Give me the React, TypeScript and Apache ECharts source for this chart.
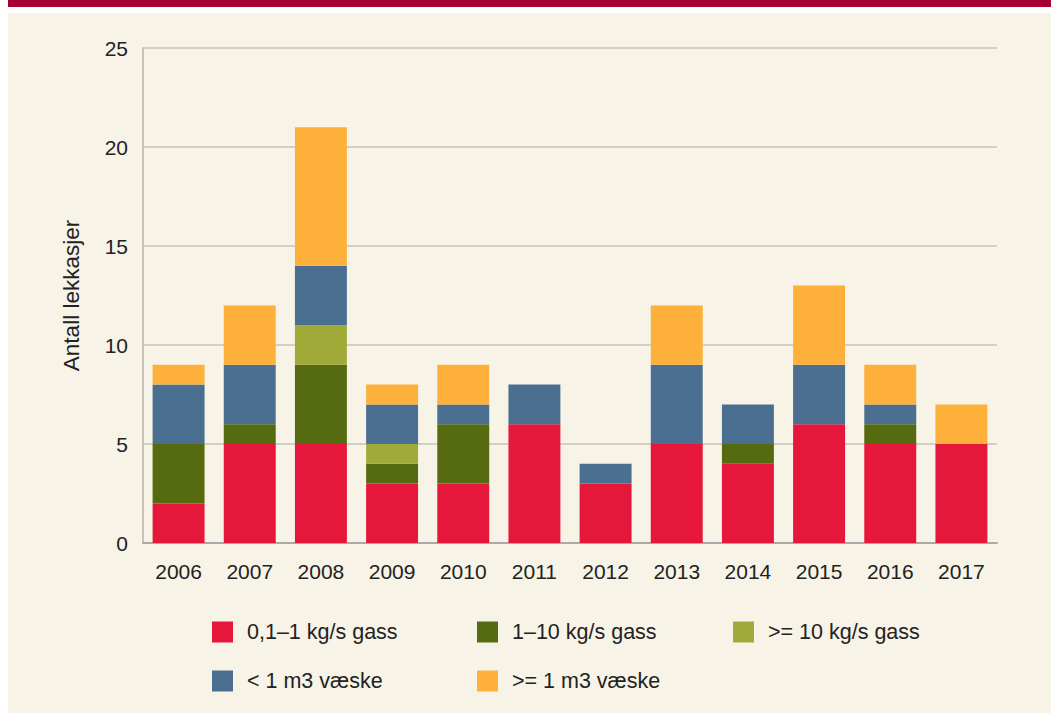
import React, { useEffect, useRef } from "react";
import * as echarts from "echarts";

const years = ["2006", "2007", "2008", "2009", "2010", "2011", "2012", "2013", "2014", "2015", "2016", "2017"];
const gasSmall = [2, 5, 5, 3, 3, 6, 3, 5, 4, 6, 5, 5];
const gasMedium = [3, 1, 4, 1, 3, 0, 0, 0, 1, 0, 1, 0];
const gasLarge = [0, 0, 2, 1, 0, 0, 0, 0, 0, 0, 0, 0];
const liquidSmall = [3, 3, 3, 2, 1, 2, 1, 4, 2, 3, 1, 0];
const liquidLarge = [1, 3, 7, 1, 2, 0, 0, 3, 0, 4, 2, 2];
const yTicks = [0, 5, 10, 15, 20, 25];

const seriesNames = ["0,1–1 kg/s gass", "1–10 kg/s gass", ">= 10 kg/s gass", "< 1 m3 væske", ">= 1 m3 væske"];
const seriesColors = ["#e5173a", "#566b10", "#9faa38", "#4a6f91", "#fdb13b"];
const seriesData = [gasSmall, gasMedium, gasLarge, liquidSmall, liquidLarge];

const legendPos = [
  { left: 212, top: 621 },
  { left: 477, top: 621 },
  { left: 733, top: 621 },
  { left: 212, top: 670 },
  { left: 477, top: 670 },
];

export default function App() {
  const ref = useRef<HTMLDivElement>(null);
  useEffect(() => {
    if (!ref.current) return;
    const chart = echarts.init(ref.current, undefined, { renderer: "svg" });
    const font = "'Liberation Sans', Arial, sans-serif";
    chart.setOption({
      animation: false,
      backgroundColor: "transparent",
      textStyle: { fontFamily: font },
      grid: { left: 143, right: 54, top: 48, bottom: 170, containLabel: false },
      xAxis: {
        type: "category",
        data: years,
        axisLine: { lineStyle: { color: "#aaaaaa", width: 2 } },
        axisTick: { show: false },
        axisLabel: { color: "#222", fontSize: 21, margin: 18, fontFamily: font },
      },
      yAxis: {
        type: "value",
        min: yTicks[0],
        max: yTicks[yTicks.length - 1],
        interval: 5,
        name: "Antall lekkasjer",
        nameLocation: "middle",
        nameGap: 60,
        nameTextStyle: { color: "#222", fontSize: 22.5, fontFamily: font },
        axisLine: { show: true, lineStyle: { color: "#b5b3ad", width: 1.5 } },
        axisTick: { show: false },
        axisLabel: { color: "#222", fontSize: 21, margin: 15, fontFamily: font },
        splitLine: { lineStyle: { color: "#c6c3bb", width: 1.5 } },
      },
      legend: seriesNames.map((n, i) => ({
        data: [n],
        left: legendPos[i].left,
        top: legendPos[i].top,
        padding: 0,
        itemWidth: 21,
        itemHeight: 21,
        icon: "rect",
        selectedMode: false,
        textStyle: { color: "#222", fontSize: 21.5, fontFamily: font, padding: [0, 0, 0, 9] },
      })),
      series: seriesNames.map((n, i) => ({
        name: n,
        type: "bar",
        stack: "total",
        barWidth: "73%",
        data: seriesData[i],
        itemStyle: { color: seriesColors[i] },
      })),
    });
    return () => chart.dispose();
  }, []);
  return (
    <div style={{ position: "fixed", left: 0, top: 0, width: 1051, height: 713, background: "#ffffff" }}>
      <div style={{ position: "absolute", left: 8, top: 0, width: 1043, height: 7, background: "#a50034" }} />
      <div style={{ position: "absolute", left: 8, top: 13, width: 1043, height: 700, background: "#f7f3e7" }} />
      <div ref={ref} style={{ position: "absolute", left: 0, top: 0, width: 1051, height: 713 }} />
    </div>
  );
}
